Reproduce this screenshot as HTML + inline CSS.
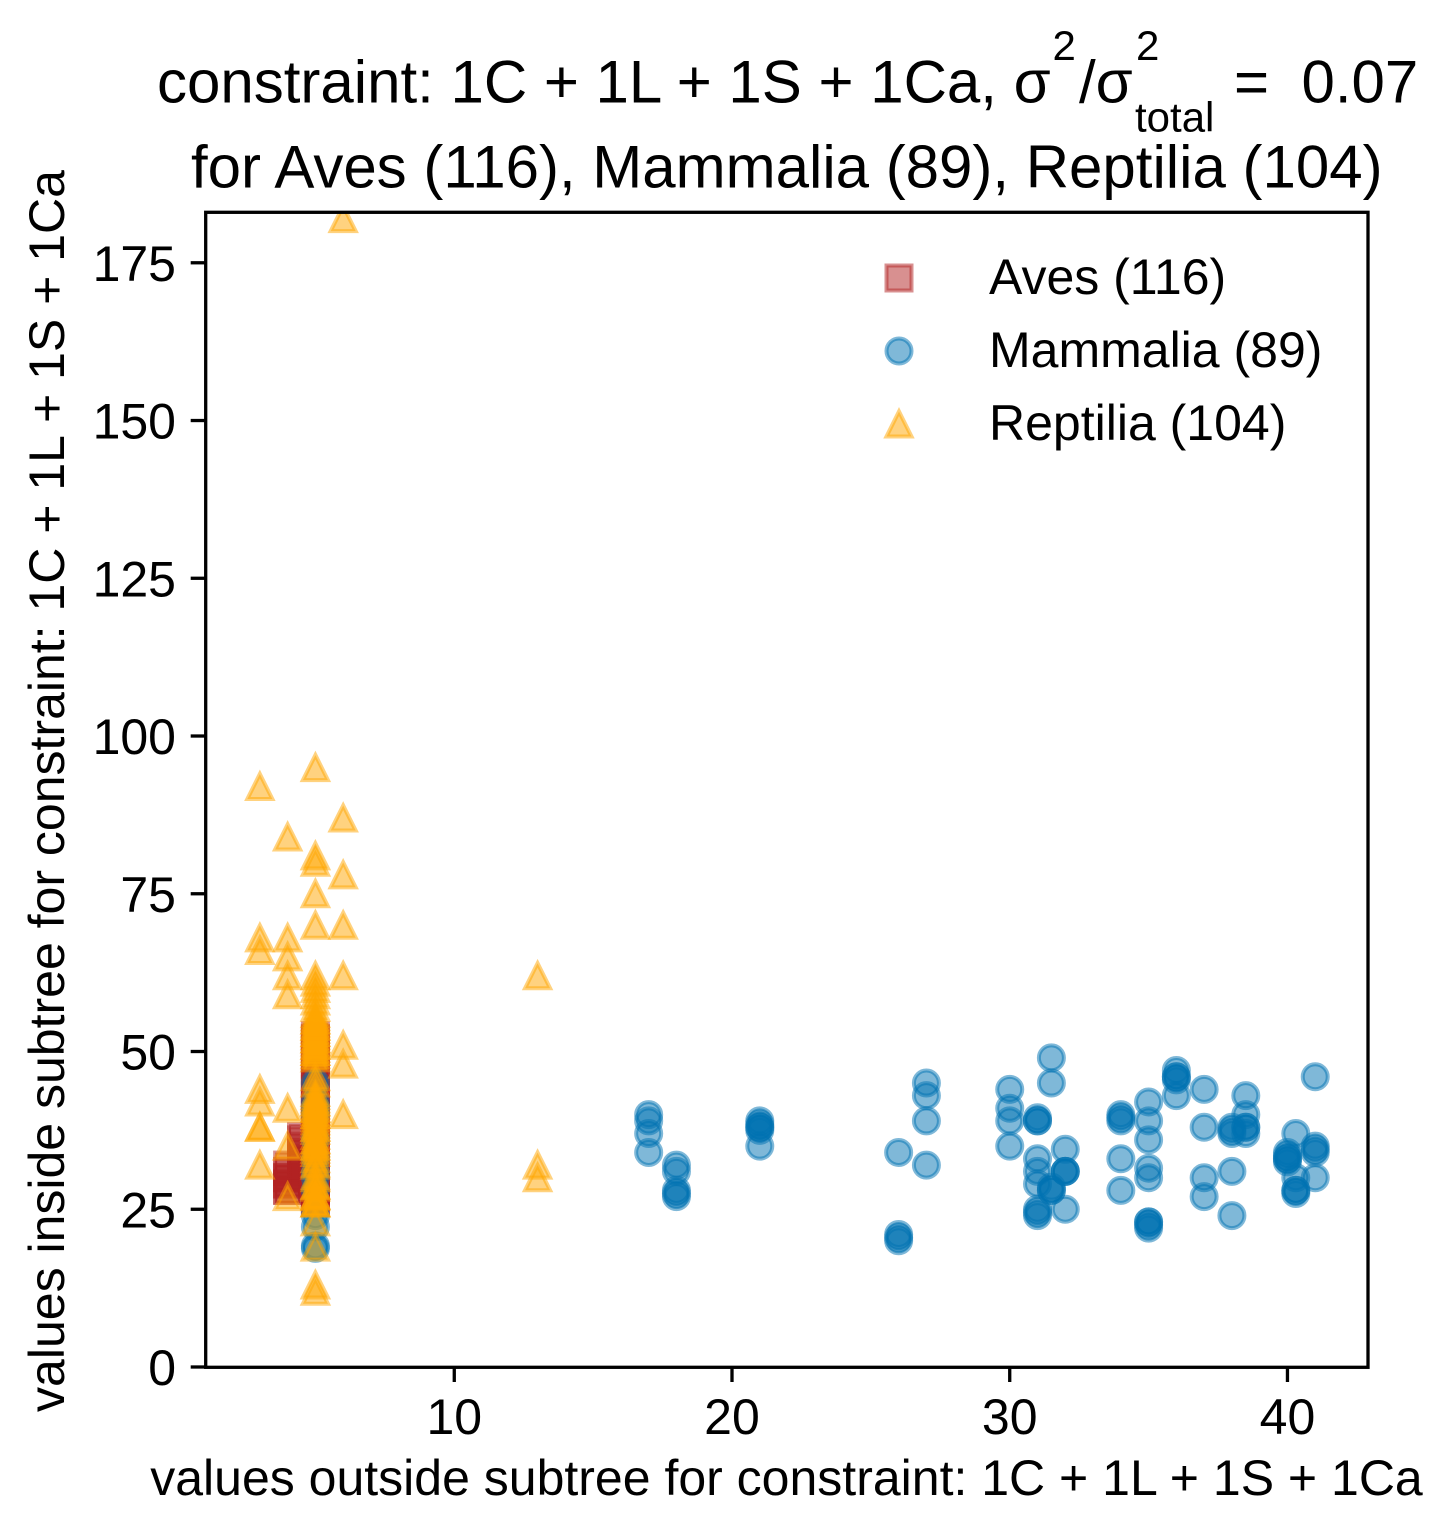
<!DOCTYPE html>
<html lang="en">
<head>
<meta charset="utf-8">
<title>Constraint scatter</title>
<style>
html,body{margin:0;padding:0;background:#fff;width:1447px;height:1535px;overflow:hidden}
svg{display:block}
text{font-family:"Liberation Sans",Arial,sans-serif;fill:#000}
</style>
</head>
<body>
<svg id="chart" xmlns="http://www.w3.org/2000/svg" width="1447" height="1535" viewBox="0 0 1447 1535">
  <defs><clipPath id="plot-clip"><rect x="205.7" y="212.3" width="1162.3" height="1155"/></clipPath></defs>
  <rect x="0" y="0" width="1447" height="1535" fill="#fff"/>
  <g font-size="60">
    <text x="157" y="102.5">constraint: 1C + 1L + 1S + 1Ca, σ</text>
    <text x="1052.5" y="60" font-size="42">2</text>
    <text x="1079" y="102.5">/σ</text>
    <text x="1136" y="60" font-size="42">2</text>
    <text x="1135" y="131.5" font-size="42">total</text>
    <text x="1234" y="102.5">=</text>
    <text x="1301.5" y="102.5">0.07</text>
    <text x="191" y="187.5">for Aves (116), Mammalia (89), Reptilia (104)</text>
  </g>
  <g id="marks" clip-path="url(#plot-clip)"></g>
  <g id="axes"></g>
  <rect x="205.7" y="212.3" width="1162.3" height="1155" fill="none" stroke="#000" stroke-width="3.3"/>
  <text x="786.5" y="1495" font-size="50" text-anchor="middle">values outside subtree for constraint: 1C + 1L + 1S + 1Ca</text>
  <text transform="translate(64,791) rotate(-90)" font-size="50" text-anchor="middle">values inside subtree for constraint: 1C + 1L + 1S + 1Ca</text>
  <g id="legend"></g>
</svg>
<script>
const xTicks = [10, 20, 30, 40];
const yTicks = [0, 25, 50, 75, 100, 125, 150, 175];
const xDomain = [1.05, 42.9];
const yDomain = [0, 183];

const seriesNames = ["Aves (116)", "Mammalia (89)", "Reptilia (104)"];

const avesX = [4,4,4,4,4,4,4,4,4.5,4.5,4.5,4.5,4.5,4.5,4.5,4.5,
  5,5,5,5,5,5,5,5,5,5,5,5,5,5,5,5,5,5,5,5,5,5,5,5,5,5,5,5,5,5,5,5,5,5,5,5];
const avesY = [28,28,29,29,30,30,31,32,30,31,32,33,34,35,36,36.5,
  26,26,27,27,28,28,29,29,30,30,31,31,32,32,33,34,35,36,37,38,39,40,41,42,43,44,45,46,47,48,49,50,51,52,52,52.5];

const mammaliaX = [5,5,5,5,5,5,5,5,5,5,5,5,5,
  17,17,17,17,18,18,18,18,18,21,21,21,21,21,21,
  26,26,26,26,27,27,27,27,30,30,30,30,
  31,31,31,31,31,31,31,31,31,31.5,31.5,31.5,31.5,31.5,
  32,32,32,32,32,34,34,34,34,34,
  35,35,35,35,35,35,35,35,35,36,36,36,36,36,
  37,37,37,37,38,38,38,38,38,38.5,38.5,38.5,38.5,38.5,
  40,40,40,40,40,40.3,40.3,40.3,40.3,40.3,41,41,41,41,41];
const mammaliaY = [19.2,18.8,22.2,24,28,30,31,33,36,40,41,42,45,
  40,39,37,34,32,31,28,27.5,27,39,38.5,38,38,37.5,35,
  34,21,20.5,20,45,43,39,32,44,41,39,35,
  39.5,39,39,33,31,29,25,24.5,24,49,45,28.5,28,28,
  34.5,31,31,31,25,40,39.5,39,33,28,
  42,39,36,31.5,30,23,23,22.5,22,47,46,46,45.5,43,
  44,38,30,27,38,37.5,37,31,24,43,40,38,38,37,
  34,33.5,33,33,32.5,37,30,28,27.5,28,46,35,34.5,34,30];

const reptiliaX = [6,5,3,6,4,5,5,6,5,5,6,3,3,4,4,4,4,5,5,5,5,5,5,5,6,6,6,6,3,3,3,3,3,4,4,4,13,13,13,
  5,5,5,5,5,5,5,5,5,5,5,5,5,5,
  5,5,5,5,5,5,5,5,5,5,5,5,5,5,5,5,5,5,5,5,
  5,5,5,5,5,5,5,5,5,5,5,
  5,5,5,5,
  5,5,5,5,5,5,
  5,5,5,5,5,5,
  5,5,5,5];
const reptiliaY = [182,95,92,87,84,81,80,78,75,70,70,68,66,68,65,62,59,62,61,60,59,58,57,56,62,51,48,40,44,42,38,38,32,41,35,27,62,32,30,
  49,49.5,50,50.5,51,51.5,52,52.5,53,53.5,54,54.5,55,55.5,
  45,43.5,43,42.5,42,41.5,41,40.5,40,39.5,39,38.5,38,37.5,36.7,36,35.5,35,34.5,34,
  33,32.3,32,30.3,30,28.8,28.5,27.2,27,26,26,
  23,19,13,12,
  50,51,52,53,54,55,
  42,41,40,38,36,35,
  28.8,27.2,26,46];

const SVG_NS = "http://www.w3.org/2000/svg";
const plotLeft = 205.7, plotRight = 1368, plotTop = 212.3, plotBottom = 1367;
const markerStroke = 4;
const colors = ["#b22222", "#0072b2", "#ffa500"];

function xScale(v) { return plotLeft + (v - xDomain[0]) / (xDomain[1] - xDomain[0]) * (plotRight - plotLeft); }
function yScale(v) { return plotBottom - (v - yDomain[0]) / (yDomain[1] - yDomain[0]) * (plotBottom - plotTop); }

function styleMarker(el, color) {
  el.setAttribute("fill", color);
  el.setAttribute("fill-opacity", "0.5");
  el.setAttribute("stroke", color);
  el.setAttribute("stroke-opacity", "0.5");
  el.setAttribute("stroke-width", markerStroke);
  el.setAttribute("stroke-linejoin", "miter");
  el.setAttribute("stroke-miterlimit", "10");
}
function squareAt(cx, cy) {
  const el = document.createElementNS(SVG_NS, "rect");
  el.setAttribute("x", cx - 12.5);
  el.setAttribute("y", cy - 12.5);
  el.setAttribute("width", 25);
  el.setAttribute("height", 25);
  styleMarker(el, colors[0]);
  return el;
}
function circleAt(cx, cy) {
  const el = document.createElementNS(SVG_NS, "circle");
  el.setAttribute("cx", cx);
  el.setAttribute("cy", cy);
  el.setAttribute("r", 12.5);
  styleMarker(el, colors[1]);
  return el;
}
function triangleAt(cx, cy) {
  const el = document.createElementNS(SVG_NS, "path");
  el.setAttribute("d", "M" + cx + " " + (cy - 12.5) + "L" + (cx + 12.5) + " " + (cy + 12.5) + "L" + (cx - 12.5) + " " + (cy + 12.5) + "Z");
  styleMarker(el, colors[2]);
  return el;
}

const marks = document.getElementById("marks");
avesX.forEach(function (v, i) {
  const el = squareAt(xScale(v), yScale(avesY[i]));
  
  
  marks.appendChild(el);
});
mammaliaX.forEach(function (v, i) {
  const el = circleAt(xScale(v), yScale(mammaliaY[i]));
  
  
  marks.appendChild(el);
});
reptiliaX.forEach(function (v, i) {
  const el = triangleAt(xScale(v), yScale(reptiliaY[i]));
  
  
  marks.appendChild(el);
});

const axes = document.getElementById("axes");
function addTick(x1, y1, x2, y2) {
  const el = document.createElementNS(SVG_NS, "line");
  el.setAttribute("x1", x1);
  el.setAttribute("y1", y1);
  el.setAttribute("x2", x2);
  el.setAttribute("y2", y2);
  el.setAttribute("stroke", "#000");
  el.setAttribute("stroke-width", "3.3");
  
  
  axes.appendChild(el);
}
function addLabel(x, y, str, anchor, size, name) {
  const el = document.createElementNS(SVG_NS, "text");
  el.setAttribute("x", x);
  el.setAttribute("y", y);
  el.setAttribute("text-anchor", anchor);
  el.setAttribute("font-size", size);
  el.textContent = str;
  
  
  return el;
}
xTicks.forEach(function (t) {
  const x = xScale(t);
  addTick(x, plotBottom, x, plotBottom + 15);
  axes.appendChild(addLabel(x, 1434, String(t), "middle", 50, "x-tick-label"));
});
yTicks.forEach(function (t) {
  const y = yScale(t);
  addTick(plotLeft, y, plotLeft - 15, y);
  axes.appendChild(addLabel(176, y + 18, String(t), "end", 50, "y-tick-label"));
});

const legend = document.getElementById("legend");
const legendMakers = [squareAt, circleAt, triangleAt];
const legendKeys = ["aves", "mammalia", "reptilia"];
const legendRowY = [278, 351, 424];
seriesNames.forEach(function (s, i) {
  const m = legendMakers[i](899, legendRowY[i]);
  
  
  legend.appendChild(m);
  legend.appendChild(addLabel(989, legendRowY[i] + 16, s, "start", 50, "legend-label-" + legendKeys[i]));
});
</script>
</body>
</html>
